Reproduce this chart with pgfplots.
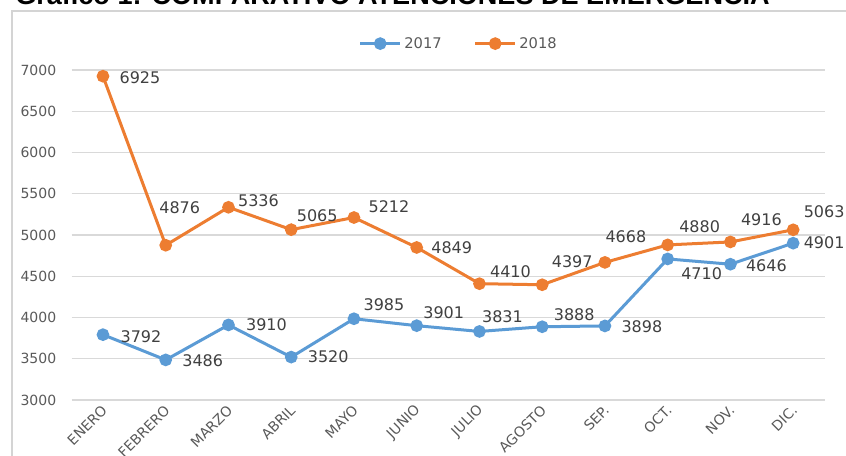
\documentclass[border=0pt]{standalone}
\usepackage{pgfplots}
\pgfplotsset{compat=1.18}
\usepackage{pgfplotstable}
\usepackage{fontspec}
\setmainfont{DejaVu Sans}
\newfontfamily\titlefont{Liberation Sans}
\definecolor{cA}{HTML}{5B9BD5}
\definecolor{cB}{HTML}{ED7D31}
\definecolor{gridc}{HTML}{D9D9D9}
\definecolor{framec}{HTML}{D4D4D4}
\definecolor{tickc}{HTML}{595959}
\definecolor{labc}{HTML}{404040}

\pgfplotstableread{
x y dx dy
0 3792 28.5 -1.5
1 3486 27.75 -0.75
2 3910 28.5 0
3 3520 27.75 0
4 3985 22.5 10.5
5 3901 20.25 9.75
6 3831 17.25 11.25
7 3888 24 9
8 3898 27.75 -0.75
9 4710 25.5 -11.25
10 4646 27 -0.75
11 4901 23.25 0
}\dataA

\pgfplotstableread{
x y dx dy
0 6925 27.75 -0.75
1 4876 10.5 28.5
2 5336 22.5 5.25
3 5065 19.5 10.5
4 5212 26.25 8.25
5 4849 26.25 0
6 4410 23.25 9
7 4397 22.5 17.25
8 4668 15.75 19.5
9 4880 24 13.5
10 4916 23.25 16.5
11 5063 23.25 13.5
}\dataB

\pgfplotsset{
  mylabels/.style={
    visualization depends on={\thisrow{dx} \as \dx},
    visualization depends on={\thisrow{dy} \as \dy},
    nodes near coords={\pgfmathprintnumber[fixed,precision=0,set thousands separator={}]{\pgfplotspointmeta}},
    every node near coord/.append style={font=\fontsize{12}{14}\selectfont, text=labc, anchor=center, xshift=\dx, yshift=\dy},
  }
}

\begin{document}
\begin{tikzpicture}
\useasboundingbox (0,0) rectangle (634.5pt,341.25pt);
\draw[framec, line width=1.2pt] (9pt,-20pt) rectangle (660pt,333.2pt);
\node[anchor=base west, inner sep=0pt, font=\titlefont\bfseries\fontsize{20.3}{24}\selectfont] at (11.25pt,338pt) {Gráfico 1:  COMPARATIVO ATENCIONES DE EMERGENCIA};
\begin{axis}[
  at={(53.7pt,41.25pt)}, anchor=south west,
  width=564.7pt, height=247.5pt, scale only axis,
  xmin=-0.5, xmax=11.5, ymin=3000, ymax=7000,
  xtick={0,...,11},
  xticklabels={ENERO,FEBRERO,MARZO,ABRIL,MAYO,JUNIO,JULIO,AGOSTO,SEP.,OCT.,NOV.,DIC.},
  ytick={3000,3500,...,7000},
  ymajorgrids, grid style={gridc, line width=0.8pt},
  major tick length=0pt,
  axis line style={draw=none},
  tick label style={font=\fontsize{10.5}{12}\selectfont, text=tickc},
  xticklabel style={rotate=45, anchor=east, yshift=-5pt},
  yticklabel style={xshift=-8pt},
  /pgf/number format/assume math mode=true,
  /pgf/number format/set thousands separator={},
  clip=false,
  legend style={at={(0.5146,1.08)}, anchor=center, draw=none, fill=none,
    legend columns=2, font=\fontsize{11}{13}\selectfont, text=tickc,
    /tikz/every even column/.append style={column sep=22pt}},
  legend image code/.code={\draw[#1, mark repeat=2, mark phase=2] plot coordinates {(0pt,0pt) (15pt,0pt) (30pt,0pt)};},
]
\addplot[cA, line width=2.25pt, mark=*, mark size=3.6pt, mark options={solid}, mylabels] table[x=x,y=y] {\dataA};
\addlegendentry{2017}
\addplot[cB, line width=2.25pt, mark=*, mark size=3.6pt, mark options={solid}, mylabels] table[x=x,y=y] {\dataB};
\addlegendentry{2018}
\end{axis}
\end{tikzpicture}
\end{document}
